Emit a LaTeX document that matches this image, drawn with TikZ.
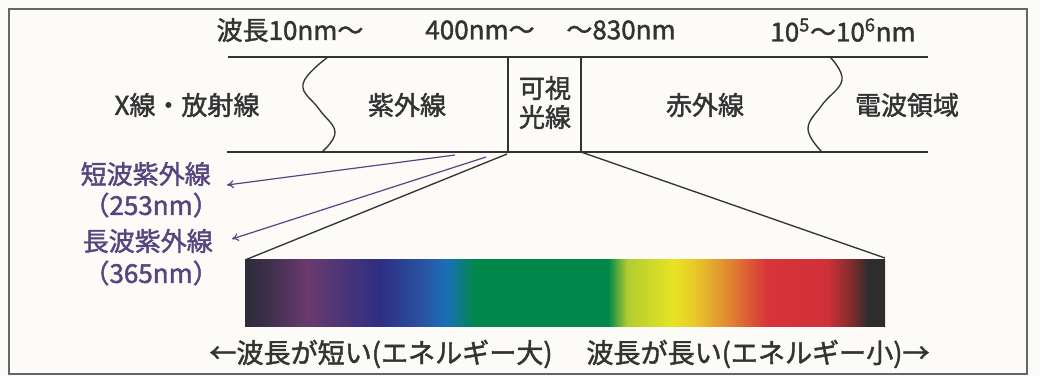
\documentclass[tikz,border=0pt]{standalone}
\usepackage{fontspec}
\setmainfont{Noto Sans CJK JP}[UprightFeatures={FakeBold=1.6}]
\usetikzlibrary{arrows.meta}
\definecolor{bg}{HTML}{FDFBF8}
\definecolor{frame}{HTML}{666666}
\definecolor{ink}{HTML}{333333}
\definecolor{uv}{HTML}{56457F}
\definecolor{s0}{HTML}{2E2C3A}
\definecolor{s1}{HTML}{3A2E48}
\definecolor{s2}{HTML}{6A3A6E}
\definecolor{s3}{HTML}{2E2E82}
\definecolor{s4}{HTML}{2A50A0}
\definecolor{s5}{HTML}{1A70B8}
\definecolor{s6}{HTML}{00874A}
\definecolor{s7}{HTML}{B0CC30}
\definecolor{s8}{HTML}{E8E424}
\definecolor{s9}{HTML}{E8C828}
\definecolor{s10}{HTML}{E08A30}
\definecolor{s11}{HTML}{D8343A}
\definecolor{s12}{HTML}{D03038}
\definecolor{s13}{HTML}{7A2C2C}
\definecolor{s14}{HTML}{2E2C2C}
\pgfdeclarehorizontalshading{spectrum}{100bp}{%
color(0bp)=(s0); color(25bp)=(s0); color(26.56bp)=(s1); color(29.84bp)=(s2);
color(35.55bp)=(s3); color(38.67bp)=(s4); color(40.78bp)=(s5); color(42.97bp)=(s6);
color(53.36bp)=(s6); color(54.84bp)=(s7); color(58.44bp)=(s8); color(60.16bp)=(s9);
color(62.66bp)=(s10); color(65.78bp)=(s11); color(70.47bp)=(s12); color(72.5bp)=(s13);
color(73.67bp)=(s14); color(75bp)=(s14); color(100bp)=(s14)}
\begin{document}
\begin{tikzpicture}[x=0.75pt,y=-0.75pt,
  lbl/.style={inner sep=0pt,text=ink,font=\fontsize{19.5}{22}\selectfont},
  uvlbl/.style={inner sep=0pt,text=uv,anchor=east,font=\fontsize{19.5}{22}\selectfont},
  botlbl/.style={inner sep=0pt,text=ink,font=\fontsize{20.3}{22}\selectfont},
  bandline/.style={draw=ink,line width=1pt},
  uvarrow/.style={draw=uv,line width=0.9pt,-{To[length=5pt,width=6pt]}}]
\useasboundingbox (0,0) rectangle (1040,376);
\fill[bg] (0,0) rectangle (1040,376);
\draw[frame,line width=1.3pt] (9,9) rectangle (1027,374);
% band
\draw[bandline] (228,57) -- (928,57);
\draw[bandline] (227,152) -- (928,152);
\draw[bandline] (508,57) -- (508,152);
\draw[bandline] (581,57) -- (581,152);
\draw[bandline] plot[smooth,tension=0.7] coordinates {(328,57) (303,84) (319,109) (335,132) (322,152)};
\draw[bandline] plot[smooth,tension=0.7] coordinates {(830,57) (842,80) (822,105) (808,129) (822,152)};
% top labels
\node[lbl] (w1) at (290,30) {波長10nm～};
\node[lbl] (w2) at (480,30) {400nm～};
\node[lbl] (w3) at (621,30) {～830nm};
\node[lbl] (w4) at (843,30) {10\textsuperscript{5}～10\textsuperscript{6}nm};
% region labels
\node[lbl] (xray) at (187,105) {X線・放射線};
\node[lbl] (uvr) at (407,105) {紫外線};
\node[lbl] (vis1) at (545,88) {可視};
\node[lbl] (vis2) at (545,117) {光線};
\node[lbl] (ir) at (705,105) {赤外線};
\node[lbl] (radio) at (907,105) {電波領域};
% spectrum
\shade[shading=spectrum] (245,259) rectangle (885,326);
\coordinate (spl) at (245,260);
\coordinate (spr) at (885,258);
\coordinate (vl) at (507,154);
\coordinate (vr) at (581,152);
\draw[bandline] (vl) -- (spl);
\draw[bandline] (vr) -- (spr);
% UV labels and arrows
\node[uvlbl] (uvc) at (211,174) {短波紫外線};
\node[uvlbl] (uvc2) at (219,205) {（253nm）};
\node[uvlbl] (uva) at (213,241) {長波紫外線};
\node[uvlbl] (uva2) at (219,273) {（365nm）};
\coordinate (a1s) at (455,155);
\coordinate (a1e) at (227,185);
\coordinate (a2s) at (486,157);
\coordinate (a2e) at (232,239);
\draw[uvarrow] (a1s) -- (a1e);
\draw[uvarrow] (a2s) -- (a2e);
% bottom labels
\node[botlbl] (shortw) at (381,354) {←波長が短い(エネルギー大)};
\node[botlbl] (longw) at (758,354) {波長が長い(エネルギー小)→};
\end{tikzpicture}
\end{document}
